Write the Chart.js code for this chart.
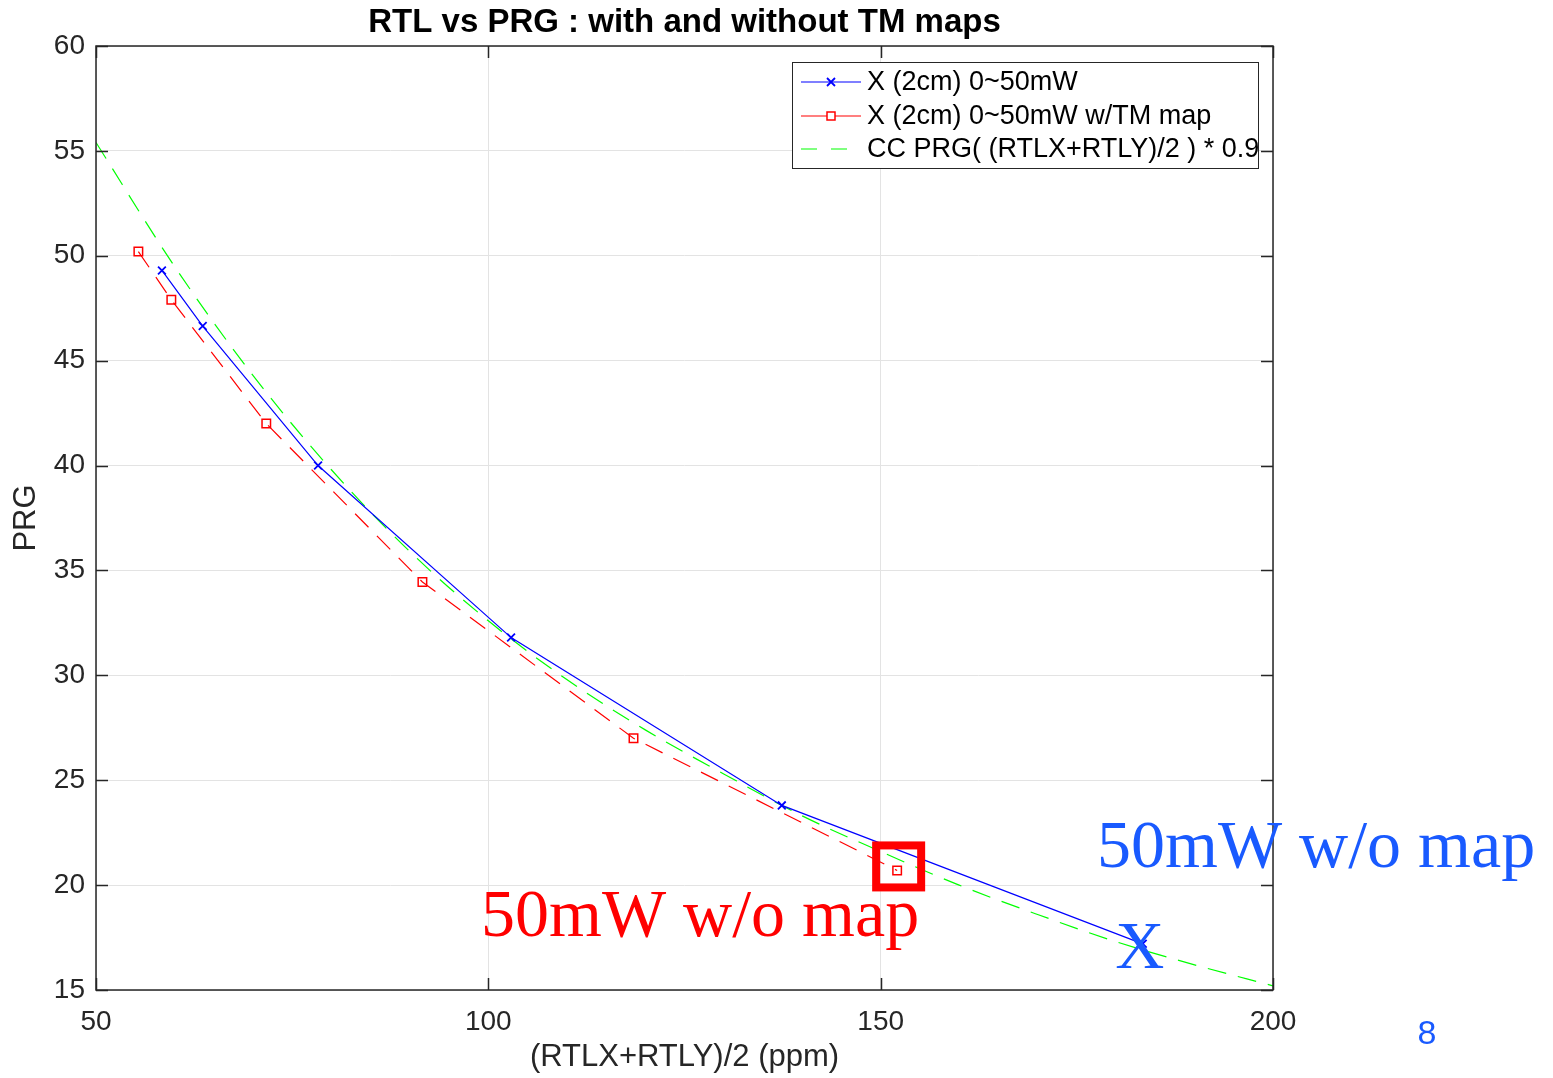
<!DOCTYPE html>
<html>
<head>
<meta charset="utf-8">
<script src="https://cdn.jsdelivr.net/npm/chart.js@4.4.1/dist/chart.umd.min.js"></script>
<style>
  html, body { margin: 0; padding: 0; background: #fff; }
  canvas { display: block; }
</style>
</head>
<body>
<canvas id="miGrafico" width="1553" height="1078"></canvas>
<script>
// datos
var blueX = [58.4, 63.6, 78.3, 102.9, 137.4, 183.4];
var blueY = [49.3, 46.65, 40.0, 31.8, 23.8, 17.2];
var redX = [55.4, 59.6, 71.7, 91.6, 118.5, 152.1];
var redY = [50.2, 47.9, 42.0, 34.45, 27.0, 20.7];
var greenX = [50, 60, 70, 80, 90, 100, 110, 120, 130, 140, 150, 160, 170, 180, 190, 200];
var greenY = [55.4, 49.5, 44.3, 39.8, 35.9, 32.6, 29.8, 27.4, 25.3, 23.3, 21.6, 20.0, 18.6, 17.3, 16.2, 15.2];
var xTicks = [50, 100, 150, 200];
var yTicks = [15, 20, 25, 30, 35, 40, 45, 50, 55, 60];
var seriesNames = ['X (2cm) 0~50mW', 'X (2cm) 0~50mW w/TM map', 'CC PRG( (RTLX+RTLY)/2 ) * 0.9'];

function pares(xs, ys) {
  return xs.map(function (x, i) { return { x: x, y: ys[i] }; });
}

var SANS = '"Liberation Sans", Arial, Helvetica, sans-serif';
var SERIF = '"Liberation Serif", "Times New Roman", serif';
var AZUL = '#195aff';

// titulo, caja, marcas internas, leyenda y anotaciones
var extras = {
  id: 'extras',
  afterDatasetsDraw: function (chart) {
    var ctx = chart.ctx, a = chart.chartArea;
    var xs = chart.scales.x, ys = chart.scales.y;
    ctx.save();
    // marcas hacia dentro
    ctx.strokeStyle = '#262626';
    ctx.lineWidth = 1.5;
    ctx.beginPath();
    yTicks.forEach(function (v) {
      var p = Math.round(ys.getPixelForValue(v)) + 0.5;
      ctx.moveTo(a.left, p); ctx.lineTo(a.left + 12, p);
      ctx.moveTo(a.right, p); ctx.lineTo(a.right - 12, p);
    });
    xTicks.forEach(function (v) {
      var p = Math.round(xs.getPixelForValue(v)) + 0.5;
      ctx.moveTo(p, a.bottom); ctx.lineTo(p, a.bottom - 12);
      ctx.moveTo(p, a.top); ctx.lineTo(p, a.top + 12);
    });
    ctx.stroke();
    ctx.strokeRect(a.left, a.top, a.right - a.left, a.bottom - a.top);

    // titulo
    ctx.fillStyle = '#000';
    ctx.font = 'bold 33px ' + SANS;
    ctx.textAlign = 'center';
    ctx.textBaseline = 'middle';
    ctx.fillText('RTL vs PRG : with and without TM maps', (a.left + a.right) / 2, 23);

    // leyenda
    var bx = a.right - 481, by = a.top + 16, bw = 466, bh = 106;
    ctx.fillStyle = '#fff';
    ctx.fillRect(bx, by, bw, bh);
    ctx.strokeStyle = '#262626';
    ctx.lineWidth = 1;
    ctx.strokeRect(bx + 0.5, by + 0.5, bw, bh);
    var rows = [by + 20, by + 54, by + 87];
    chart.data.datasets.forEach(function (ds, i) {
      var yc = rows[i];
      ctx.strokeStyle = ds.borderColor;
      ctx.lineWidth = 1.2;
      ctx.setLineDash(i === 2 ? [16, 14] : []);
      ctx.beginPath();
      ctx.moveTo(bx + 9, yc); ctx.lineTo(bx + 69, yc);
      ctx.stroke();
      ctx.setLineDash([]);
      var mx = bx + 39;
      if (i === 0) {
        ctx.lineWidth = 1.8;
        ctx.beginPath();
        ctx.moveTo(mx - 4, yc - 4); ctx.lineTo(mx + 4, yc + 4);
        ctx.moveTo(mx + 4, yc - 4); ctx.lineTo(mx - 4, yc + 4);
        ctx.stroke();
      } else if (i === 1) {
        ctx.fillStyle = '#fff';
        ctx.fillRect(mx - 4, yc - 4, 8, 8);
        ctx.lineWidth = 1.5;
        ctx.strokeRect(mx - 4, yc - 4, 8, 8);
      }
      ctx.fillStyle = '#000';
      ctx.font = '27px ' + SANS;
      ctx.textAlign = 'left';
      ctx.textBaseline = 'middle';
      ctx.fillText(seriesNames[i], bx + 75, yc + 1);
    });
    ctx.restore();
  },
  afterDraw: function (chart) {
    var ctx = chart.ctx;
    var xs = chart.scales.x, ys = chart.scales.y;
    ctx.save();
    // recuadro rojo sobre el ultimo punto rojo
    var n = redX.length - 1;
    var rx = xs.getPixelForValue(redX[n]), ry = ys.getPixelForValue(redY[n]);
    ctx.strokeStyle = '#ff0000';
    ctx.lineWidth = 8;
    ctx.strokeRect(rx - 21, ry - 25, 45, 42);

    ctx.font = '68px ' + SERIF;
    ctx.textAlign = 'left';
    ctx.textBaseline = 'alphabetic';
    ctx.fillStyle = '#ff0000';
    ctx.fillText('50mW w/o map', 481, 936);
    ctx.fillStyle = AZUL;
    ctx.fillText('50mW w/o map', 1097, 867);

    // X sobre el ultimo punto azul
    var m = blueX.length - 1;
    var bxp = xs.getPixelForValue(blueX[m]), byp = ys.getPixelForValue(blueY[m]);
    ctx.textAlign = 'center';
    ctx.fillText('X', bxp - 3, byp + 24);

    ctx.font = '34px ' + SANS;
    ctx.fillText('8', 1427, 1044);
    ctx.restore();
  }
};

var canvas = document.getElementById('miGrafico');
var ctx = canvas.getContext('2d');

var miGrafico = new Chart(ctx, {
  type: 'scatter',
  data: {
    datasets: [{
      label: seriesNames[0],
      data: pares(blueX, blueY),
      showLine: true,
      borderColor: '#0000ff',
      backgroundColor: '#0000ff',
      borderWidth: 1.2,
      pointStyle: 'crossRot',
      pointRadius: 5.5,
      pointBorderWidth: 1.8,
      tension: 0
    }, {
      label: seriesNames[1],
      data: pares(redX, redY),
      showLine: true,
      borderColor: '#ff0000',
      backgroundColor: 'rgba(0,0,0,0)',
      borderWidth: 1.2,
      borderDash: [19, 12],
      pointStyle: 'rect',
      pointRadius: 6,
      pointBorderWidth: 1.5,
      tension: 0
    }, {
      label: seriesNames[2],
      data: pares(greenX, greenY),
      showLine: true,
      borderColor: '#00ff00',
      backgroundColor: '#00ff00',
      borderWidth: 1.2,
      borderDash: [19, 12],
      pointRadius: 0,
      cubicInterpolationMode: 'monotone'
    }]
  },
  options: {
    responsive: false,
    animation: false,
    layout: { padding: { top: 46, right: 280, bottom: 0, left: 0 } },
    plugins: {
      legend: { display: false },
      title: { display: false },
      tooltip: { enabled: false }
    },
    scales: {
      x: {
        type: 'linear',
        min: 50, max: 200,
        afterFit: function (s) { s.height = 88; },
        afterBuildTicks: function (s) { s.ticks = xTicks.map(function (v) { return { value: v }; }); },
        border: { display: false },
        grid: { color: '#e3e3e3', lineWidth: 1, drawTicks: false },
        ticks: { color: '#262626', font: { family: SANS, size: 28 }, padding: 15, maxRotation: 0 },
        title: {
          display: true, text: '(RTLX+RTLY)/2 (ppm)', color: '#262626',
          font: { family: SANS, size: 31 }, padding: { top: 0, bottom: 2 }
        }
      },
      y: {
        type: 'linear',
        min: 15, max: 60,
        afterFit: function (s) { s.width = 96; },
        afterBuildTicks: function (s) { s.ticks = yTicks.map(function (v) { return { value: v }; }); },
        border: { display: false },
        grid: { color: '#e3e3e3', lineWidth: 1, drawTicks: false },
        ticks: { color: '#262626', font: { family: SANS, size: 28 }, padding: 11 },
        title: {
          display: true, text: 'PRG', color: '#262626',
          font: { family: SANS, size: 31 }, padding: { top: 8, bottom: 0 }
        }
      }
    }
  },
  plugins: [extras]
});
</script>
</body>
</html>
